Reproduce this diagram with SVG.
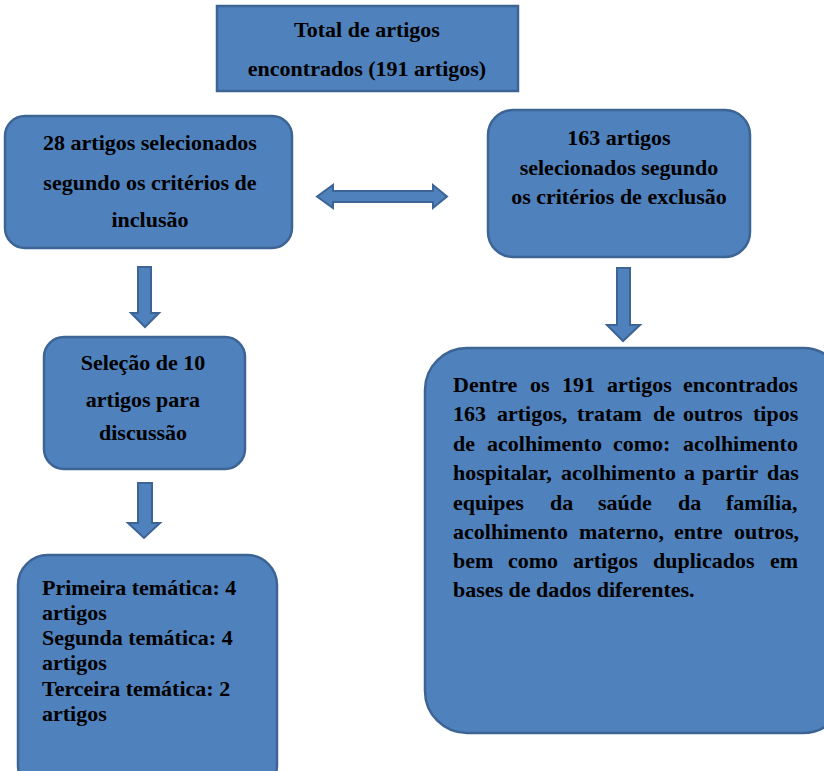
<svg xmlns="http://www.w3.org/2000/svg" width="824" height="771" viewBox="0 0 824 771">
<style>
.box{fill:#4f81bd;stroke:#3c6494;stroke-width:2.5}
.arr{fill:#4f81bd;stroke:#3c6494;stroke-width:2;stroke-linejoin:miter}
text{font-family:"Liberation Serif","Times New Roman",serif;font-weight:bold;font-size:22px;fill:#000}
.c{text-anchor:middle}
</style>
<rect width="824" height="771" fill="#ffffff"/>
<g id="node-total">
<rect class="box" x="217" y="6" width="301" height="85"/>
<text class="c" x="367" y="37">Total de artigos</text>
<text class="c" x="367" y="76">encontrados (191 artigos)</text>
</g>
<g id="node-inclusao">
<rect class="box" x="5" y="116" width="287" height="132" rx="20"/>
<text class="c" x="150" y="150">28 artigos selecionados</text>
<text class="c" x="150" y="190">segundo os critérios de</text>
<text class="c" x="150" y="227">inclusão</text>
</g>
<g id="node-exclusao">
<rect class="box" x="488" y="110" width="262" height="147" rx="25"/>
<text class="c" x="619" y="145">163 artigos</text>
<text class="c" x="619" y="175">selecionados segundo</text>
<text class="c" x="619" y="204">os critérios de exclusão</text>
</g>
<g id="node-selecao">
<rect class="box" x="44" y="337" width="201" height="132" rx="20"/>
<text class="c" x="143" y="370">Seleção de 10</text>
<text class="c" x="143" y="407">artigos para</text>
<text class="c" x="143" y="440">discussão</text>
</g>
<g id="node-tematicas">
<rect class="box" x="18" y="555" width="259" height="240" rx="30"/>
<text x="42" y="595">Primeira temática: 4</text>
<text x="42" y="620">artigos</text>
<text x="42" y="645">Segunda temática: 4</text>
<text x="42" y="670">artigos</text>
<text x="42" y="696">Terceira temática: 2</text>
<text x="42" y="721">artigos</text>
</g>
<g id="node-dentre">
<rect class="box" x="425" y="348" width="420" height="385" rx="42"/>
<text y="392"><tspan x="453">Dentre</tspan><tspan x="530">os</tspan><tspan x="562">191</tspan><tspan x="607">artigos</tspan><tspan x="683">encontrados</tspan></text>
<text y="421"><tspan x="453">163</tspan><tspan x="497">artigos,</tspan><tspan x="577">tratam</tspan><tspan x="653">de</tspan><tspan x="683">outros</tspan><tspan x="753">tipos</tspan></text>
<text y="451"><tspan x="453">de</tspan><tspan x="487">acolhimento</tspan><tspan x="613">como:</tspan><tspan x="683">acolhimento</tspan></text>
<text y="480"><tspan x="453">hospitalar,</tspan><tspan x="561">acolhimento</tspan><tspan x="684">a</tspan><tspan x="702">partir</tspan><tspan x="767">das</tspan></text>
<text y="510"><tspan x="453">equipes</tspan><tspan x="550">da</tspan><tspan x="598">saúde</tspan><tspan x="678">da</tspan><tspan x="726">família,</tspan></text>
<text y="539"><tspan x="453">acolhimento</tspan><tspan x="579">materno,</tspan><tspan x="674">entre</tspan><tspan x="734">outros,</tspan></text>
<text y="568"><tspan x="453">bem</tspan><tspan x="508">como</tspan><tspan x="573">artigos</tspan><tspan x="653">duplicados</tspan><tspan x="770">em</tspan></text>
<text x="453" y="597">bases de dados diferentes.</text>
</g>
<g id="connectors">
<polygon class="arr" points="317,196.5 333,185 333,191 433,191 433,185 447,196.5 433,208 433,202 333,202 333,208"/>
<polygon class="arr" points="138,267 151,267 151,313 159,313 145,327 131,313 138,313"/>
<polygon class="arr" points="138,483 152,483 152,523 160,523 144,538 128,523 138,523"/>
<polygon class="arr" points="617,268 630,268 630,325 640,325 623,341 607,325 617,325"/>
</g>
</svg>
